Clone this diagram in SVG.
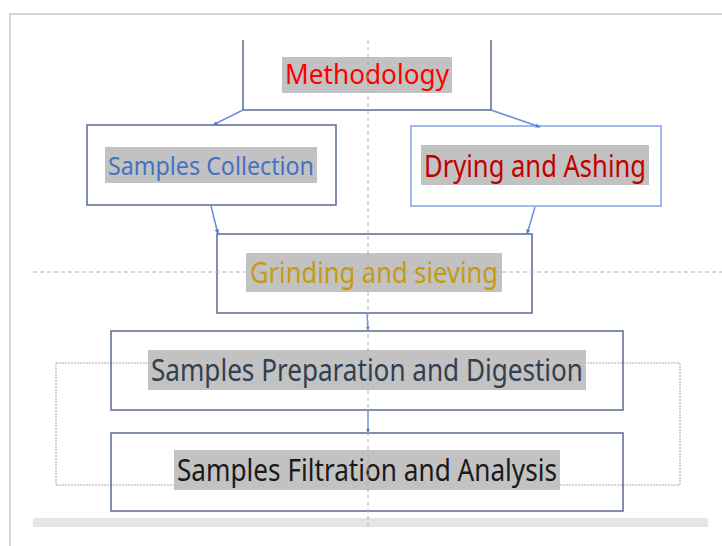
<svg xmlns="http://www.w3.org/2000/svg" width="722" height="546" viewBox="0 0 722 546">
  <defs>
    <marker id="ah" viewBox="0 0 10 10" refX="9" refY="5" markerWidth="5" markerHeight="5" orient="auto" markerUnits="userSpaceOnUse">
      <path d="M0,1 L10,5 L0,9 z" fill="#4f7ad0"/>
    </marker>
    <style>
      .box { fill: none; stroke: #5a6a92; stroke-width: 1.5; }
      .boxl { fill: none; stroke: #7fa3e6; stroke-width: 1.5; }
      .hl { fill: #c2c2c2; }
      .t { font-family: "Noto Sans", "Open Sans", "Liberation Sans", sans-serif; text-anchor: middle; }
      .conn { stroke: #6b8fdc; stroke-width: 1.5; fill: none; marker-end: url(#ah); }
      .guide { stroke: #b0b0b0; stroke-width: 1; stroke-dasharray: 4 3; fill: none; }
      .dot { stroke: #a8a8a8; stroke-width: 1; stroke-dasharray: 2 1; fill: none; }
    </style>
  </defs>
  <rect x="0" y="0" width="722" height="546" fill="#ffffff"/>
  <!-- page frame -->
  <path d="M10,546 L10,14 L722,14" fill="none" stroke="#d6d6d6" stroke-width="2"/>
  <rect x="33" y="518" width="675" height="9" fill="#e6e6e6"/>
  <!-- dotted rectangle -->
  <rect class="dot" x="56" y="363" width="624" height="122"/>

  <g id="methodology">
    <path d="M243,40 L243,110 L491,110 L491,40" fill="none" stroke="#5a6a92" stroke-width="1.5"/>
    <rect class="hl" x="282" y="57" width="170" height="36"/>
    <text class="t" x="367" y="84" font-size="28" fill="#ff0000" textLength="164" lengthAdjust="spacingAndGlyphs">Methodology</text>
  </g>
  <g id="samples-collection">
    <rect class="box" x="87" y="125" width="249" height="80"/>
    <rect class="hl" x="105" y="147" width="212" height="36"/>
    <text class="t" x="211" y="175" font-size="26" fill="#4472c4" textLength="206" lengthAdjust="spacingAndGlyphs">Samples Collection</text>
  </g>
  <g id="drying-ashing">
    <rect class="boxl" x="411" y="126" width="250" height="80"/>
    <rect class="hl" x="421" y="145" width="228" height="40"/>
    <text class="t" x="535" y="177" font-size="30" fill="#c00000" textLength="222" lengthAdjust="spacingAndGlyphs">Drying and Ashing</text>
  </g>
  <g id="grinding-sieving">
    <rect class="box" x="217" y="234" width="315" height="79"/>
    <rect class="hl" x="246" y="253" width="256" height="39"/>
    <text class="t" x="374" y="283" font-size="29" fill="#c69a0c" textLength="248" lengthAdjust="spacingAndGlyphs">Grinding and sieving</text>
  </g>
  <g id="samples-preparation">
    <rect class="box" x="111" y="331" width="512" height="79"/>
    <rect class="hl" x="148" y="350" width="438" height="40"/>
    <text class="t" x="367" y="381" font-size="30" fill="#333f50" textLength="432" lengthAdjust="spacingAndGlyphs">Samples Preparation and Digestion</text>
  </g>
  <g id="samples-filtration">
    <rect class="box" x="111" y="433" width="512" height="78"/>
    <rect class="hl" x="174" y="450" width="386" height="40"/>
    <text class="t" x="367" y="481" font-size="30" fill="#1a1a1a" textLength="380" lengthAdjust="spacingAndGlyphs">Samples Filtration and Analysis</text>
  </g>

  <g id="connectors">
    <path class="conn" d="M243,110 L213,125"/>
    <path class="conn" d="M491,110 L540,127"/>
    <path class="conn" d="M211,206 L218,234"/>
    <path class="conn" d="M535,207 L527,234"/>
    <path class="conn" d="M367,313 L368,331"/>
    <path class="conn" d="M368,410 L368,433"/>
  </g>

  <!-- guide lines -->
  <path class="guide" d="M368,40 L368,527"/>
  <path class="guide" d="M33,272 L722,272" stroke-dasharray="2 2"/>
</svg>
